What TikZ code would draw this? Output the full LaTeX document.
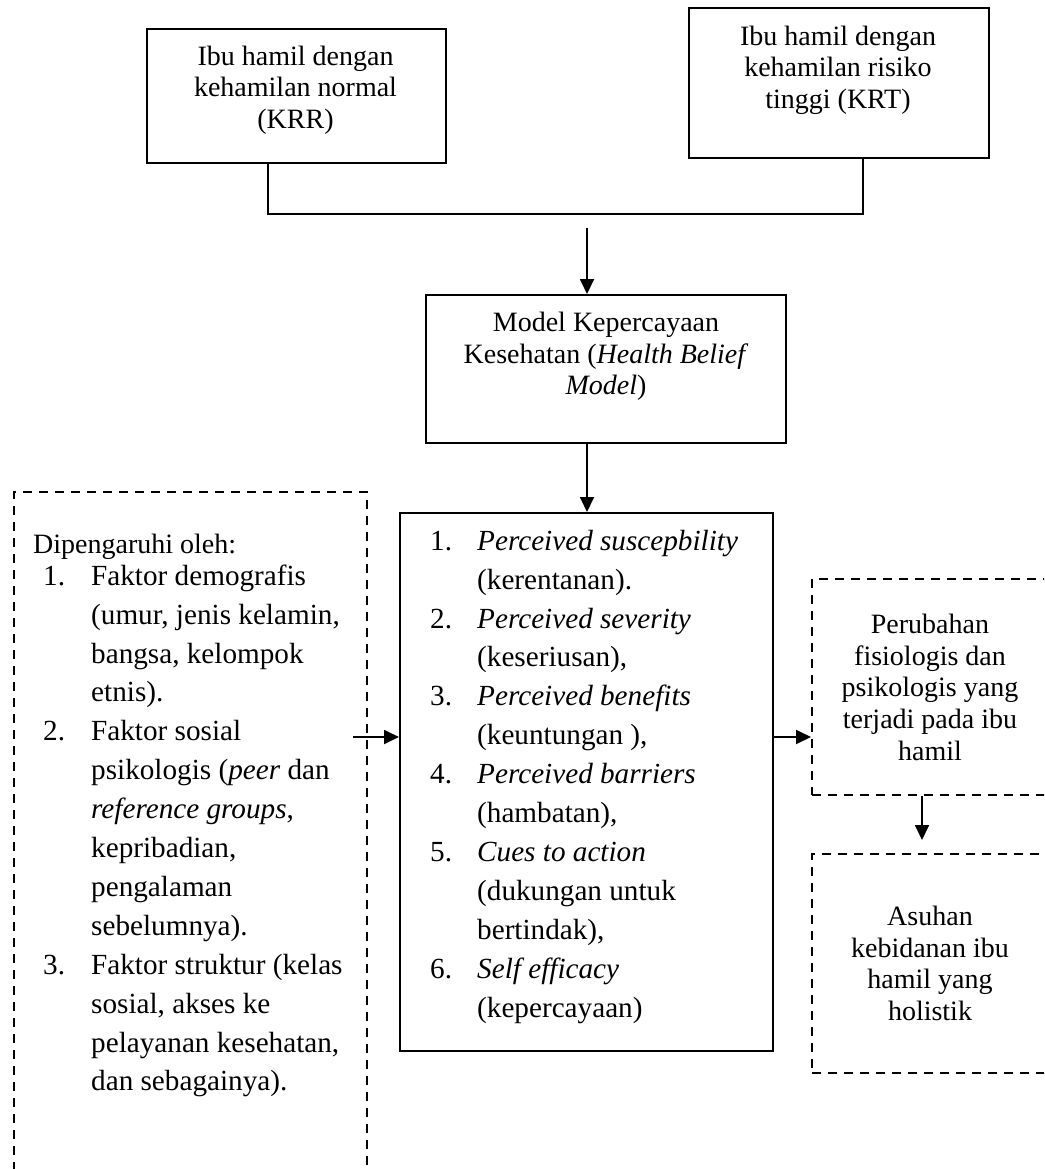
\documentclass[tikz,border=0pt]{standalone}
\usepackage{fontspec}
\setmainfont{Liberation Serif}
\usetikzlibrary{arrows.meta}
\newcommand\numit[2]{\makebox[48pt][l]{#1}#2}
\newcommand\indt{\hspace*{48pt}}
\newcommand\numitb[2]{\makebox[47pt][l]{#1}#2}
\newcommand\indtb{\hspace*{47pt}}
\begin{document}
\begin{tikzpicture}[x=1pt,y=-1pt,
  box/.style={draw, line width=1.6pt, inner sep=0pt, anchor=north west},
  dbox/.style={draw, line width=1.6pt, dash pattern=on 9pt off 7pt, inner sep=0pt, anchor=north west},
  ctext/.style={align=center, inner sep=0pt, anchor=north, font=\fontsize{28}{31.8}\selectfont},
  ltext/.style={align=left, inner sep=0pt, anchor=north west, font=\fontsize{29.2}{38.9}\selectfont},
  conn/.style={line width=1.5pt},
  arr/.style={line width=1.8pt, -{Triangle[length=15pt,width=14pt]}}]
\useasboundingbox (0,0) rectangle (1044,1169);
\clip (0,0) rectangle (1044,1169);

% boxes
\node[box, minimum width=299pt, minimum height=134pt] (boxA) at (146,28) {};
\node[box, minimum width=300pt, minimum height=150pt] (boxB) at (688,7) {};
\node[box, minimum width=360pt, minimum height=148pt] (model) at (425,294) {};
\node[box, minimum width=373pt, minimum height=538pt] (list) at (399,512) {};
\node[dbox, minimum width=353pt, minimum height=720pt] (left) at (13,491) {};
\node[dbox, minimum width=300pt, minimum height=216pt] (r1) at (811,578) {};
\node[dbox, minimum width=300pt, minimum height=219pt] (r2) at (811,853) {};

% texts
\node[ctext] (tA) at (295.5,41) {\rule{0pt}{24pt}Ibu hamil dengan\\kehamilan normal\\(KRR)};
\node[ctext] (tB) at (838,21) {\rule{0pt}{24pt}Ibu hamil dengan\\kehamilan risiko\\tinggi (KRT)};
\node[ctext] (tM) at (606,307) {\rule{0pt}{24pt}Model Kepercayaan\\Kesehatan (\textit{Health Belief}\\\textit{Model})};
\node[ctext] (tR1) at (930,609) {\rule{0pt}{24pt}Perubahan\\fisiologis dan\\psikologis yang\\terjadi pada ibu\\hamil};
\node[ctext] (tR2) at (930,901) {\rule{0pt}{24pt}Asuhan\\kebidanan ibu\\hamil yang\\holistik};
\node[ltext, font=\fontsize{28}{38.9}\selectfont] (dip) at (33,529) {\rule{0pt}{24pt}Dipengaruhi oleh:};
\node[ltext] (tL) at (43,561) {\rule{0pt}{24pt}\numit{1.}{Faktor demografis}\\
\indt(umur, jenis kelamin,\\
\indt bangsa, kelompok\\
\indt etnis).\\
\numit{2.}{Faktor sosial}\\
\indt psikologis (\textit{peer} dan\\
\indt\textit{reference groups},\\
\indt kepribadian,\\
\indt pengalaman\\
\indt sebelumnya).\\
\numit{3.}{Faktor struktur (kelas}\\
\indt sosial, akses ke\\
\indt pelayanan kesehatan,\\
\indt dan sebagainya).};
\node[ltext] (tList) at (430,526) {\rule{0pt}{24pt}\numitb{1.}{\textit{Perceived suscepbility}}\\
\indtb(kerentanan).\\
\numitb{2.}{\textit{Perceived severity}}\\
\indtb(keseriusan),\\
\numitb{3.}{\textit{Perceived benefits}}\\
\indtb(keuntungan ),\\
\numitb{4.}{\textit{Perceived barriers}}\\
\indtb(hambatan),\\
\numitb{5.}{\textit{Cues to action}}\\
\indtb(dukungan untuk\\
\indtb bertindak),\\
\numitb{6.}{\textit{Self efficacy}}\\
\indtb(kepercayaan)};

% connectors
\coordinate (jl) at (268,214);
\coordinate (jr) at (863,214);
\draw[conn] (boxA.south -| jl) -- (jl) -- (jr) -- (boxB.south -| jr);
\coordinate (ms) at (587,228);
\draw[arr] (ms) -- (model.north -| ms);
\draw[arr] (model.south -| ms) -- (list.north -| ms);
\coordinate (la) at (353,737);
\draw[arr] (la) -- (list.west |- la);
\draw[arr] (list.east |- la) -- (r1.west |- la);
\coordinate (dx) at (922,800);
\draw[arr, shorten >=13pt] (r1.south -| dx) -- (r2.north -| dx);
\end{tikzpicture}
\end{document}
